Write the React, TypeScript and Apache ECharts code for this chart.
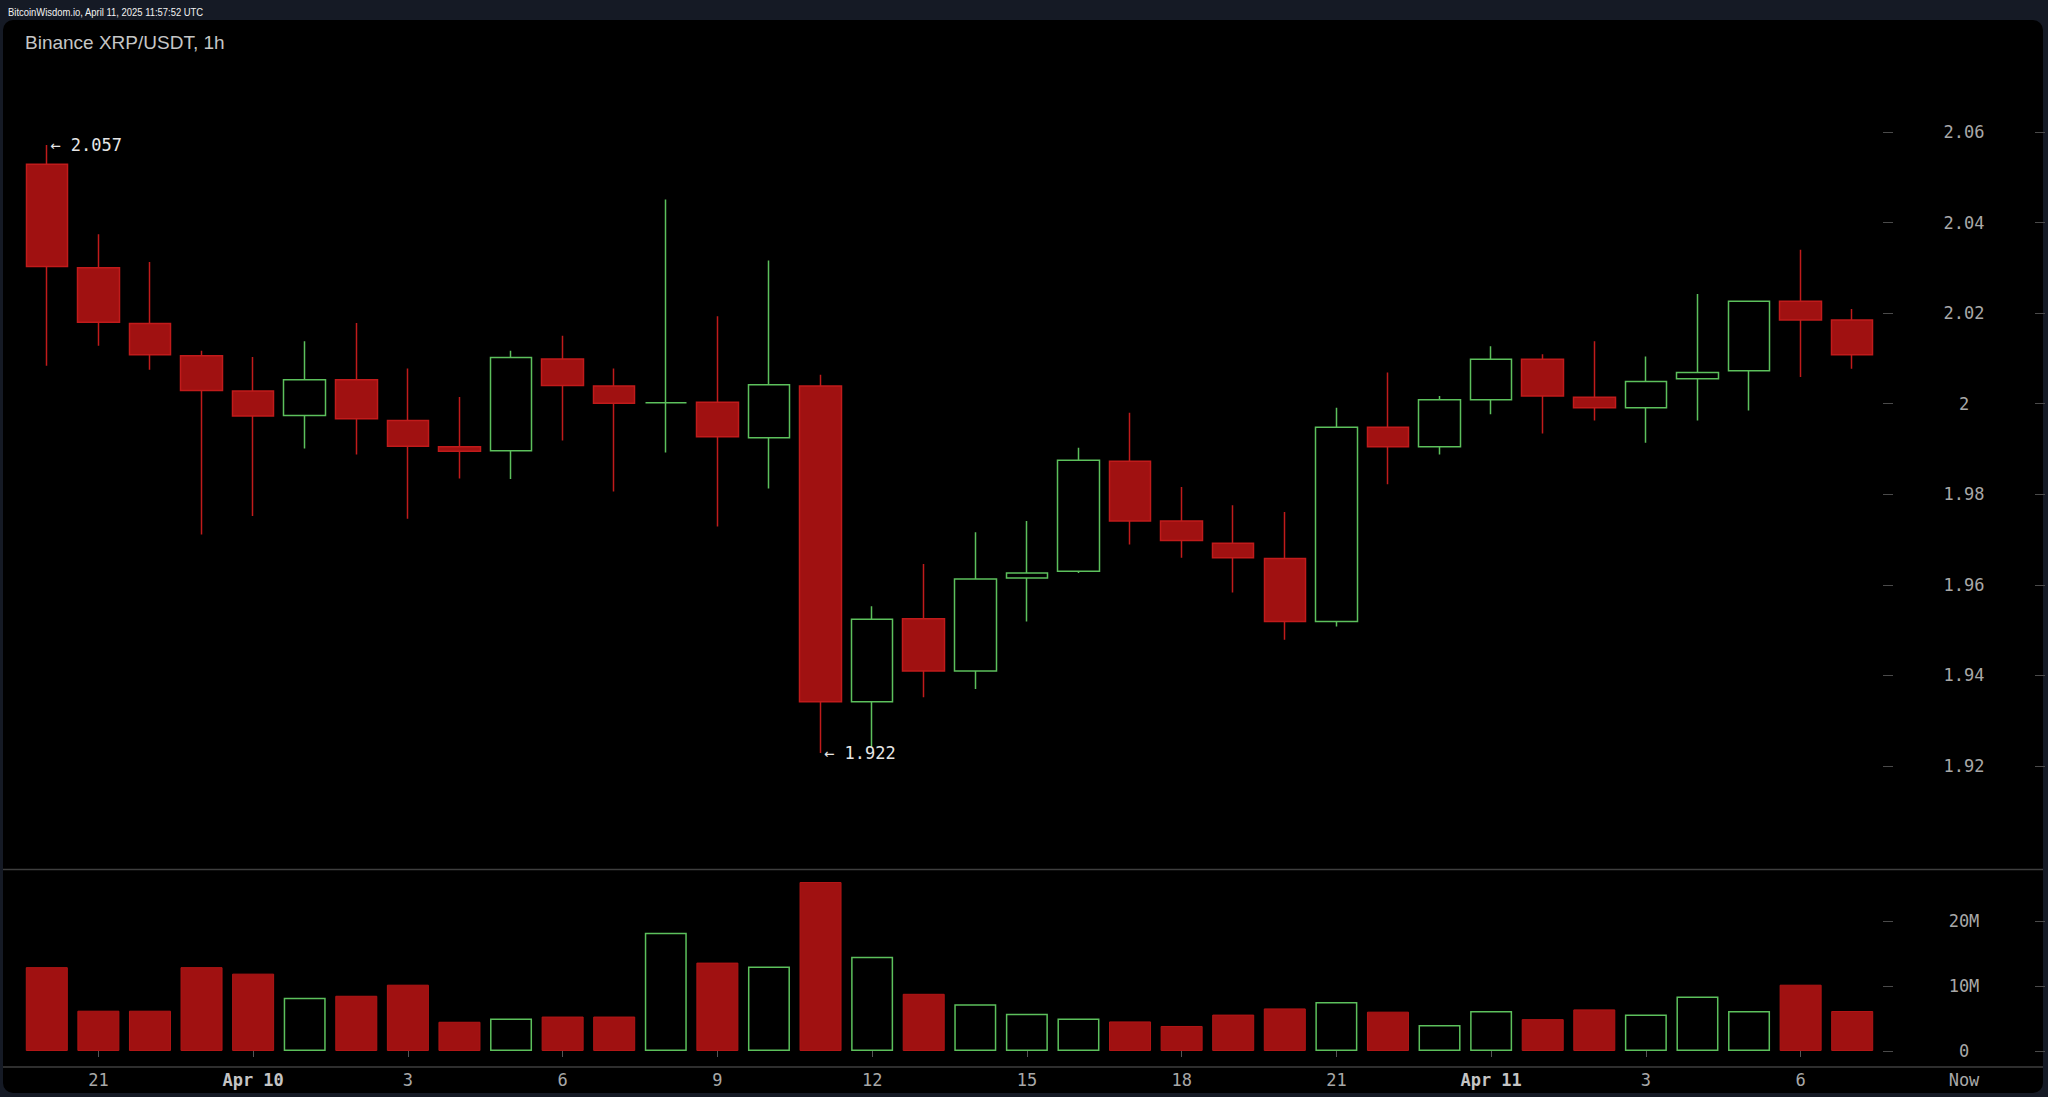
import React, { useEffect, useRef } from "react";
import * as echarts from "echarts";

// Hour labels of the 36 one-hour candles (Apr 9 20:00 UTC .. Apr 11 07:00)
const hours = [
  "20", "21", "22", "23", "Apr 10", "1", "2", "3", "4", "5", "6", "7",
  "8", "9", "10", "11", "12", "13", "14", "15", "16", "17", "18", "19",
  "20", "21", "22", "23", "Apr 11", "1", "2", "3", "4", "5", "6", "7",
];

const opens = [
  2.0529, 2.0300, 2.0177, 2.0106, 2.0028, 1.9974, 2.0053, 1.9963, 1.9905, 1.9896, 2.0099, 2.0039,
  2.0002, 2.0003, 1.9925, 2.0039, 1.9342, 1.9525, 1.9410, 1.9615, 1.9630, 1.9873, 1.9741, 1.9692,
  1.9658, 1.9519, 1.9948, 1.9905, 2.0009, 2.0098, 2.0014, 1.9991, 2.0055, 2.0073, 2.0226, 2.0185,
];
const closes = [
  2.0303, 2.0180, 2.0108, 2.0029, 1.9973, 2.0053, 1.9967, 1.9906, 1.9895, 2.0102, 2.0040, 2.0001,
  2.0002, 1.9927, 2.0042, 1.9342, 1.9524, 1.9410, 1.9613, 1.9626, 1.9875, 1.9741, 1.9698, 1.9660,
  1.9519, 1.9948, 1.9905, 2.0009, 2.0098, 2.0017, 1.9991, 2.0049, 2.0069, 2.0226, 2.0185, 2.0108,
];
const lows = [
  2.0084, 2.0128, 2.0075, 1.9711, 1.9752, 1.9901, 1.9888, 1.9746, 1.9835, 1.9834, 1.9919, 1.9806,
  1.9892, 1.9729, 1.9813, 1.9229, 1.9240, 1.9352, 1.9370, 1.9519, 1.9626, 1.9689, 1.9660, 1.9583,
  1.9479, 1.9508, 1.9822, 1.9888, 1.9977, 1.9934, 1.9963, 1.9914, 1.9963, 1.9985, 2.0059, 2.0077,
];
const highs = [
  2.0571, 2.0374, 2.0313, 2.0117, 2.0103, 2.0138, 2.0178, 2.0078, 2.0015, 2.0117, 2.0150, 2.0078,
  2.0451, 2.0193, 2.0316, 2.0064, 1.9553, 1.9646, 1.9716, 1.9741, 1.9903, 1.9980, 1.9816, 1.9776,
  1.9761, 1.9991, 2.0069, 2.0017, 2.0127, 2.0109, 2.0138, 2.0104, 2.0242, 2.0227, 2.0340, 2.0209,
];
// volume in millions
const volumesM = [
  12.9, 6.2, 6.2, 12.9, 11.9, 8.2, 8.5, 10.2, 4.5, 5.0, 5.3, 5.3,
  18.2, 13.6, 13.0, 26.0, 14.5, 8.8, 7.2, 5.75, 5.0, 4.55, 3.85, 5.6,
  6.55, 7.55, 6.05, 4.0, 6.15, 4.9, 6.4, 5.6, 8.4, 6.15, 10.2, 6.15,
];

const priceTicks = [1.92, 1.94, 1.96, 1.98, 2.0, 2.02, 2.04, 2.06];
const volumeTicks = [0, 10e6, 20e6];
const highMark = { index: 0, label: "← 2.057" };
const lowMark = { index: 15, label: "← 1.922" };

const GREEN = "#5cc05c";
const RED_FILL = "#a01111";
const RED_LINE = "#c01b1b";
const MONO = "DejaVu Sans Mono";
const AXIS_TXT = "#a8a8a8";

export default function App() {
  const ref = useRef<HTMLDivElement>(null);

  useEffect(() => {
    document.body.style.margin = "0";
    document.body.style.background = "#151a25";
    const chart = echarts.init(ref.current!, undefined, { renderer: "svg" });

    const candleData = opens.map((o, i) => [o, closes[i], lows[i], highs[i]]);
    const volData = volumesM.map((v, i) => {
      const up = closes[i] >= opens[i];
      return {
        value: v * 1e6,
        itemStyle: up
          ? { color: "#000", borderColor: GREEN, borderWidth: 1.5 }
          : { color: RED_FILL, borderColor: "#b21616", borderWidth: 1 },
      };
    });

    const showIdx = (i: number) => (i - 1) % 3 === 0;

    const priceAxisBase = {
      type: "value",
      gridIndex: 0,
      position: "right",
      min: 1.89726,
      max: 2.08252,
      splitLine: { show: false },
      axisLine: { show: false },
    };
    const volAxisBase = {
      type: "value",
      gridIndex: 1,
      position: "right",
      min: 0,
      max: 28e6,
      splitLine: { show: false },
      axisLine: { show: false },
    };
    const tickStyle = { show: true, length: 10, lineStyle: { color: "#4a4a4a", width: 1 } };

    const markLabel = {
      show: true,
      position: "right",
      distance: 3,
      color: "#e6e6e6",
      fontFamily: MONO,
      fontSize: 17,
    };

    chart.setOption({
      animation: false,
      backgroundColor: "#151a25",
      grid: [
        { left: 21, right: 170, top: 30, bottom: 228 },
        { left: 21, right: 170, top: 869, bottom: 46 },
      ],
      xAxis: [
        { type: "category", gridIndex: 0, data: hours, show: false },
        {
          type: "category",
          gridIndex: 1,
          data: hours,
          offset: 16,
          axisLine: { show: false },
          axisTick: {
            show: true,
            alignWithLabel: true,
            interval: (i: number) => showIdx(i),
            length: 6,
            lineStyle: { color: "#555" },
          },
          axisLabel: {
            interval: (i: number) => showIdx(i),
            margin: 4,
            color: AXIS_TXT,
            fontFamily: MONO,
            fontSize: 17,
            formatter: (v: string) => (v.startsWith("Apr") ? `{b|${v}}` : v),
            rich: {
              b: { fontWeight: "bold", color: "#c4c4c4", fontFamily: MONO, fontSize: 17 },
            },
          },
        },
      ],
      yAxis: [
        {
          ...priceAxisBase,
          offset: 5,
          axisTick: { ...tickStyle, customValues: priceTicks },
          axisLabel: {
            customValues: priceTicks,
            align: "center",
            margin: 81,
            color: AXIS_TXT,
            fontFamily: MONO,
            fontSize: 17,
            formatter: (v: number) => String(+v.toFixed(2)),
          },
        },
        {
          ...priceAxisBase,
          offset: 157,
          axisTick: { ...tickStyle, customValues: priceTicks },
          axisLabel: { show: false },
        },
        {
          ...volAxisBase,
          offset: 5,
          axisTick: { ...tickStyle, customValues: volumeTicks },
          axisLabel: {
            customValues: volumeTicks,
            align: "center",
            margin: 81,
            color: AXIS_TXT,
            fontFamily: MONO,
            fontSize: 17,
            formatter: (v: number) => (v === 0 ? "0" : `${v / 1e6}M`),
          },
        },
        {
          ...volAxisBase,
          offset: 157,
          axisTick: { ...tickStyle, customValues: volumeTicks },
          axisLabel: { show: false },
        },
      ],
      series: [
        {
          type: "candlestick",
          xAxisIndex: 0,
          yAxisIndex: 0,
          barWidth: 42,
          data: candleData,
          itemStyle: {
            color: "#000",
            color0: RED_FILL,
            borderColor: GREEN,
            borderColor0: RED_LINE,
            borderColorDoji: GREEN,
            borderWidth: 1.5,
          },
          markPoint: {
            symbol: "circle",
            symbolSize: 1,
            itemStyle: { color: "rgba(0,0,0,0)" },
            label: markLabel,
            data: [
              { coord: [highMark.index, highs[highMark.index]], label: { ...markLabel, formatter: highMark.label } },
              { coord: [lowMark.index, lows[lowMark.index]], label: { ...markLabel, formatter: lowMark.label } },
            ],
          },
        },
        {
          type: "bar",
          xAxisIndex: 1,
          yAxisIndex: 2,
          barWidth: 42,
          data: volData,
        },
      ],
      graphic: [
        {
          type: "rect",
          z: -10,
          silent: true,
          shape: { x: 3, y: 20, width: 2040, height: 1073, r: 10 },
          style: { fill: "#000" },
        },
        {
          type: "text",
          x: 8,
          y: 12,
          scaleX: 0.9,
          style: {
            text: "BitcoinWisdom.io, April 11, 2025 11:57:52 UTC",
            fill: "#f2f2f2",
            font: "10.5px 'Liberation Sans'",
            verticalAlign: "middle",
          },
        },
        {
          type: "text",
          x: 25,
          y: 42,
          style: {
            text: "Binance XRP/USDT, 1h",
            fill: "#c6c6c6",
            font: "19px 'Liberation Sans'",
            verticalAlign: "middle",
          },
        },
        {
          type: "line",
          silent: true,
          shape: { x1: 3, y1: 869.5, x2: 2043, y2: 869.5 },
          style: { stroke: "#3e3e3e", lineWidth: 1.5 },
        },
        {
          type: "line",
          silent: true,
          shape: { x1: 3, y1: 1067, x2: 2043, y2: 1067 },
          style: { stroke: "#3e3e3e", lineWidth: 1.5 },
        },
        {
          type: "text",
          x: 1964,
          y: 1080,
          style: {
            text: "Now",
            fill: AXIS_TXT,
            font: `17px '${MONO}'`,
            align: "center",
            verticalAlign: "middle",
          },
        },
      ],
    });

    return () => chart.dispose();
  }, []);

  return (
    <div
      ref={ref}
      style={{ position: "absolute", left: 0, top: 0, width: 2048, height: 1097 }}
    />
  );
}
